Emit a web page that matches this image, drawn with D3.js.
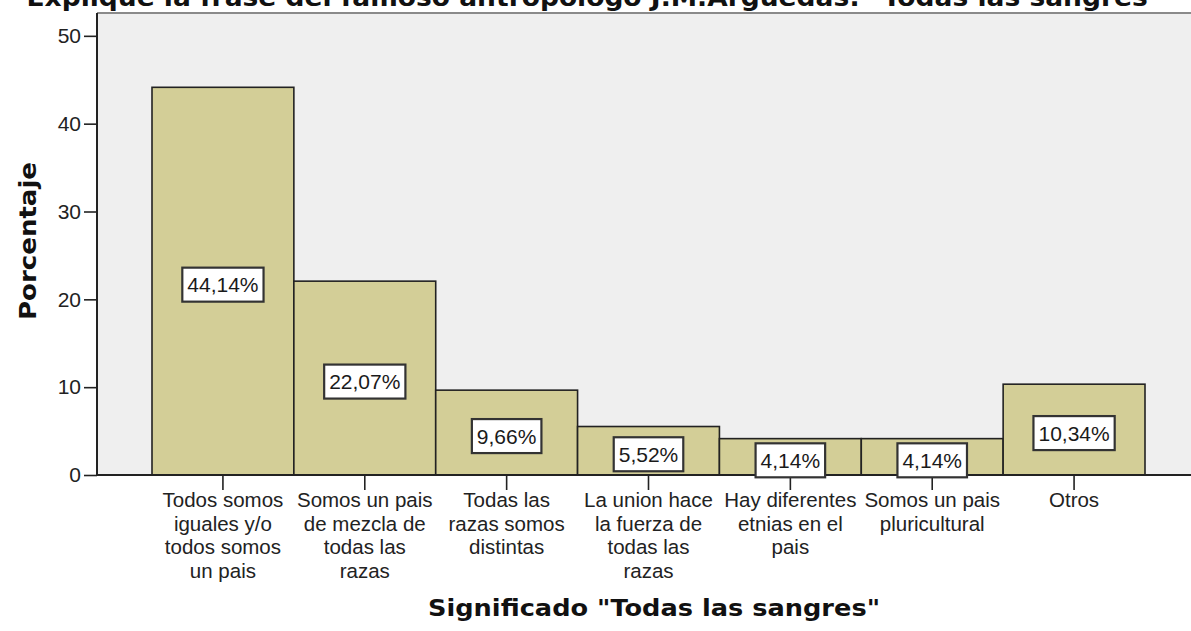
<!DOCTYPE html>
<html>
<head>
<meta charset="utf-8">
<script src="https://cdn.jsdelivr.net/npm/d3@7/dist/d3.min.js"></script>
<style>
  html, body { margin: 0; padding: 0; background: #ffffff; }
  svg { display: block; }
</style>
</head>
<body>
<div id="chart"></div>
<script>
// ---- data ----
const categories = [
  "Todos somos iguales y/o todos somos un pais",
  "Somos un pais de mezcla de todas las razas",
  "Todas las razas somos distintas",
  "La union hace la fuerza de todas las razas",
  "Hay diferentes etnias en el pais",
  "Somos un pais pluricultural",
  "Otros"
];
const categoryLines = [
  ["Todos somos", "iguales y/o", "todos somos", "un pais"],
  ["Somos un pais", "de mezcla de", "todas las", "razas"],
  ["Todas las", "razas somos", "distintas"],
  ["La union hace", "la fuerza de", "todas las", "razas"],
  ["Hay diferentes", "etnias en el", "pais"],
  ["Somos un pais", "pluricultural"],
  ["Otros"]
];
const percentages = [44.14, 22.07, 9.66, 5.52, 4.14, 4.14, 10.34];
const valueLabels = ["44,14%", "22,07%", "9,66%", "5,52%", "4,14%", "4,14%", "10,34%"];
const yTicks = [0, 10, 20, 30, 40, 50];
const chartTitle = "Explique la frase del famoso antropologo J.M.Arguedas: \"Todas las sangres\"";
const xTitle = "Significado \"Todas las sangres\"";
const yTitle = "Porcentaje";

// ---- layout ----
const W = 1191, H = 631;
const plotLeft = 97, plotTop = 13, plotBottom = 475, plotRight = 1191;

const svg = d3.select("#chart").append("svg")
  .attr("width", W).attr("height", H);

const x = d3.scaleBand()
  .domain(categories)
  .range([152, 1145])
  .paddingInner(0).paddingOuter(0);

const y = d3.scaleLinear()
  .domain([0, 52.6])
  .range([plotBottom, plotTop]);

// plot background
svg.append("rect")
  .attr("x", plotLeft).attr("y", plotTop)
  .attr("width", plotRight - plotLeft).attr("height", plotBottom - plotTop)
  .attr("fill", "#efefef");

// top frame line
svg.append("line")
  .attr("x1", plotLeft).attr("x2", plotRight)
  .attr("y1", plotTop).attr("y2", plotTop)
  .attr("stroke", "#8a8a8a").attr("stroke-width", 2);

// bars
svg.append("g").selectAll("rect")
  .data(categories)
  .join("rect")
  .attr("x", d => x(d))
  .attr("y", (d, i) => y(percentages[i]))
  .attr("width", x.bandwidth())
  .attr("height", (d, i) => y(0) - y(percentages[i]))
  .attr("fill", "#d3ce97")
  .attr("stroke", "#222")
  .attr("stroke-width", 1.6);

// y axis
const yAxis = svg.append("g")
  .attr("transform", `translate(${plotLeft},0)`)
  .call(d3.axisLeft(y).tickValues(yTicks).tickSize(13).tickPadding(3).tickFormat(d3.format("d")));
yAxis.select(".domain").remove();
yAxis.selectAll(".tick line").attr("stroke", "#222").attr("stroke-width", 1.6);
yAxis.selectAll(".tick text")
  .attr("font-family", "Liberation Sans, Arial, sans-serif")
  .attr("font-size", 21).attr("fill", "#222");
svg.append("line")
  .attr("x1", plotLeft).attr("x2", plotLeft)
  .attr("y1", plotTop).attr("y2", plotBottom + 1)
  .attr("stroke", "#222").attr("stroke-width", 2);

// x axis
const xAxis = svg.append("g")
  .attr("transform", `translate(0,${plotBottom})`)
  .call(d3.axisBottom(x).tickSize(15).tickFormat(""));
xAxis.select(".domain").remove();
xAxis.selectAll(".tick line").attr("stroke", "#222").attr("stroke-width", 1.6);
svg.append("line")
  .attr("x1", plotLeft - 1).attr("x2", plotRight)
  .attr("y1", plotBottom).attr("y2", plotBottom)
  .attr("stroke", "#222").attr("stroke-width", 2);

// category labels
const catG = svg.append("g");
categories.forEach((c, i) => {
  const t = catG.append("text")
    .attr("x", x(c) + x.bandwidth() / 2)
    .attr("y", 507)
    .attr("text-anchor", "middle")
    .attr("font-family", "Liberation Sans, Arial, sans-serif")
    .attr("font-size", 20.5)
    .attr("fill", "#222");
  categoryLines[i].forEach((ln, j) => {
    t.append("tspan")
      .attr("x", x(c) + x.bandwidth() / 2)
      .attr("dy", j === 0 ? 0 : 23.5)
      .text(ln);
  });
});

// value labels
const lab = svg.append("g");
categories.forEach((c, i) => {
  const cx = x(c) + x.bandwidth() / 2;
  const cy = y(percentages[i] / 2) + 3.5;
  const g = lab.append("g");
  const rect = g.append("rect");
  const t = g.append("text")
    .attr("x", cx).attr("y", cy + 7.5)
    .attr("text-anchor", "middle")
    .attr("font-family", "Liberation Sans, Arial, sans-serif")
    .attr("font-size", 21)
    .attr("fill", "#1a1a1a")
    .text(valueLabels[i]);
  const tw = t.node().getComputedTextLength();
  const bw = tw + 10, bh = 34;
  rect.attr("x", cx - bw / 2).attr("y", cy - bh / 2)
    .attr("width", bw).attr("height", bh)
    .attr("fill", "#ffffff")
    .attr("stroke", "#333").attr("stroke-width", 2.2);
});

// titles
svg.append("text")
  .attr("x", 594).attr("y", 6)
  .attr("text-anchor", "middle")
  .attr("font-family", "DejaVu Sans, Verdana, sans-serif")
  .attr("font-weight", "bold")
  .attr("font-size", 24)
  .attr("textLength", 1135).attr("lengthAdjust", "spacingAndGlyphs")
  .attr("fill", "#111")
  .text(chartTitle);

svg.append("text")
  .attr("x", 654).attr("y", 616)
  .attr("text-anchor", "middle")
  .attr("font-family", "DejaVu Sans, Verdana, sans-serif")
  .attr("font-weight", "bold")
  .attr("font-size", 23)
  .attr("textLength", 452).attr("lengthAdjust", "spacingAndGlyphs")
  .attr("fill", "#111")
  .text(xTitle);

svg.append("text")
  .attr("transform", "translate(36,241) rotate(-90)")
  .attr("text-anchor", "middle")
  .attr("font-family", "DejaVu Sans, Verdana, sans-serif")
  .attr("font-weight", "bold")
  .attr("font-size", 23)
  .attr("textLength", 158).attr("lengthAdjust", "spacingAndGlyphs")
  .attr("fill", "#111")
  .text(yTitle);
</script>
</body>
</html>
